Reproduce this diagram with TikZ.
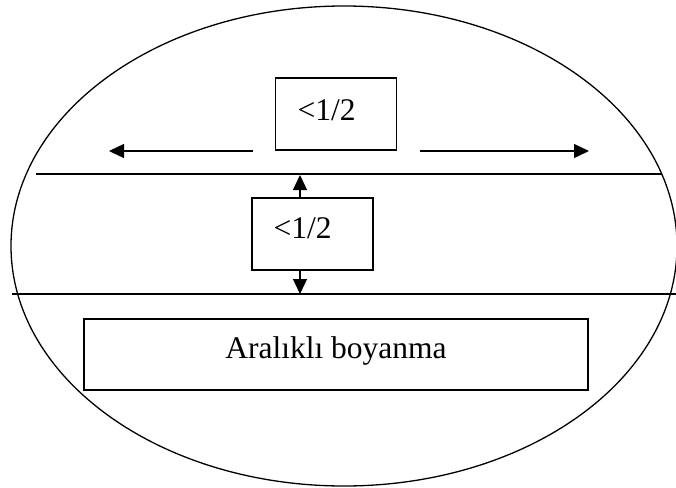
\documentclass[tikz,border=0pt]{standalone}
\usepackage{fontspec}
\setmainfont{Liberation Serif}
\usetikzlibrary{arrows.meta}
\begin{document}
\begin{tikzpicture}[x=1pt,y=-1pt,line width=1.3pt,
  box/.style={draw,inner sep=0pt,line width=1.3pt},
  lbl/.style={anchor=base west,inner sep=0pt,font=\fontsize{31.5}{36}\selectfont},
  arr/.style={-{Triangle[length=15pt,width=14pt]}}]
\useasboundingbox (0,0) rectangle (676,487);
% outer ellipse
\draw (344,246) ellipse [x radius=333pt, y radius=240pt];
% horizontal lines
\coordinate (u1) at (36,174);
\coordinate (u2) at (662,174);
\coordinate (l1) at (12,294);
\coordinate (l2) at (676,294);
\draw (u1) -- (u2);
\draw (l1) -- (l2);
% boxes
\node[box,minimum width=121pt,minimum height=72pt] (b1) at (336,114) {};
\node[box,minimum width=121pt,minimum height=72pt] (b2) at (312.5,234) {};
\node[box,minimum width=504pt,minimum height=71pt] (b3) at (336,354.5) {};
\node[lbl] (t1) at (297,120) {<1/2};
\node[lbl] (t2) at (273,238) {<1/2};
\node[anchor=base,inner sep=0pt,font=\fontsize{31.5}{36}\selectfont] (t3) at (336,358) {Aralıklı boyanma};
% horizontal arrows
\coordinate (la1) at (253,151);
\coordinate (la2) at (109,151);
\coordinate (ra1) at (420,151);
\coordinate (ra2) at (589,151);
\draw[arr] (la1) -- (la2);
\draw[arr] (ra1) -- (ra2);
% vertical arrows
\coordinate (v1) at (300,175);
\coordinate (v2) at (300,294);
\draw[arr] (b2.north -| v1) -- (v1);
\draw[arr] (b2.south -| v2) -- (v2);
\end{tikzpicture}
\end{document}
